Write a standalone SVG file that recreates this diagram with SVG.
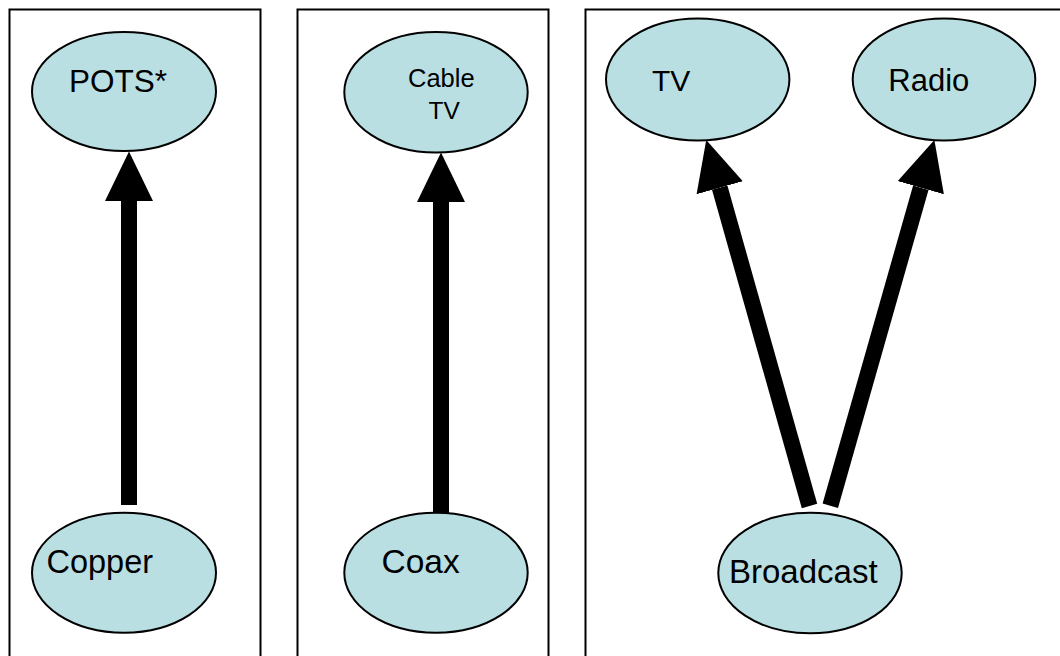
<svg xmlns="http://www.w3.org/2000/svg" width="1060" height="656" viewBox="0 0 1060 656">
<style>
.panel{fill:none;stroke:#000;stroke-width:2}
.node ellipse{fill:#B9DFE3;stroke:#000;stroke-width:2}
.node text{font-family:"Liberation Sans",Arial,sans-serif;fill:#000}
.conn line{stroke:#000;stroke-width:16;marker-end:url(#head)}
</style>
<defs>
<marker id="head" viewBox="0 0 10 10" refX="0" refY="5" markerWidth="3.1" markerHeight="3" orient="auto" markerUnits="strokeWidth" preserveAspectRatio="none">
<path d="M0,0 L10,5 L0,10 z" fill="#000"/>
</marker>
</defs>
<rect width="1060" height="656" fill="#fff"/>
<g id="panels">
<rect class="panel" x="9.5" y="9.5" width="251" height="700"/>
<rect class="panel" x="297.5" y="9.5" width="251" height="700"/>
<rect class="panel" x="585.5" y="9.5" width="500" height="700"/>
</g>
<g id="connectors" class="conn">
<line x1="129" y1="505" x2="129" y2="201"/>
<line x1="441" y1="527" x2="441" y2="202"/>
<line x1="809.5" y1="506" x2="719.7" y2="187.7"/>
<line x1="830.3" y1="505.8" x2="920.8" y2="187.7"/>
</g>
<g id="pots" class="node">
<ellipse cx="124" cy="91.5" rx="92" ry="59.5"/>
<text x="69" y="91.5" font-size="31.5">POTS*</text>
</g>
<g id="copper" class="node">
<ellipse cx="124" cy="572.7" rx="92" ry="60"/>
<text x="46.5" y="572.7" font-size="32.5">Copper</text>
</g>
<g id="cabletv" class="node">
<ellipse cx="436" cy="92.3" rx="91.7" ry="60.3"/>
<text x="408" y="87.3" font-size="25.5">Cable</text>
<text x="428.5" y="119" font-size="24.5">TV</text>
</g>
<g id="coax" class="node">
<ellipse cx="436" cy="572.7" rx="91.7" ry="60"/>
<text x="381.5" y="573.3" font-size="33.5">Coax</text>
</g>
<g id="tv" class="node">
<ellipse cx="697.7" cy="79.5" rx="91.7" ry="61"/>
<text x="652" y="90.7" font-size="30">TV</text>
</g>
<g id="radio" class="node">
<ellipse cx="944" cy="79.5" rx="91.3" ry="61"/>
<text x="888.3" y="90.7" font-size="31">Radio</text>
</g>
<g id="broadcast" class="node">
<ellipse cx="810" cy="573" rx="91.7" ry="60.3"/>
<text x="729" y="583.3" font-size="33">Broadcast</text>
</g>
</svg>
